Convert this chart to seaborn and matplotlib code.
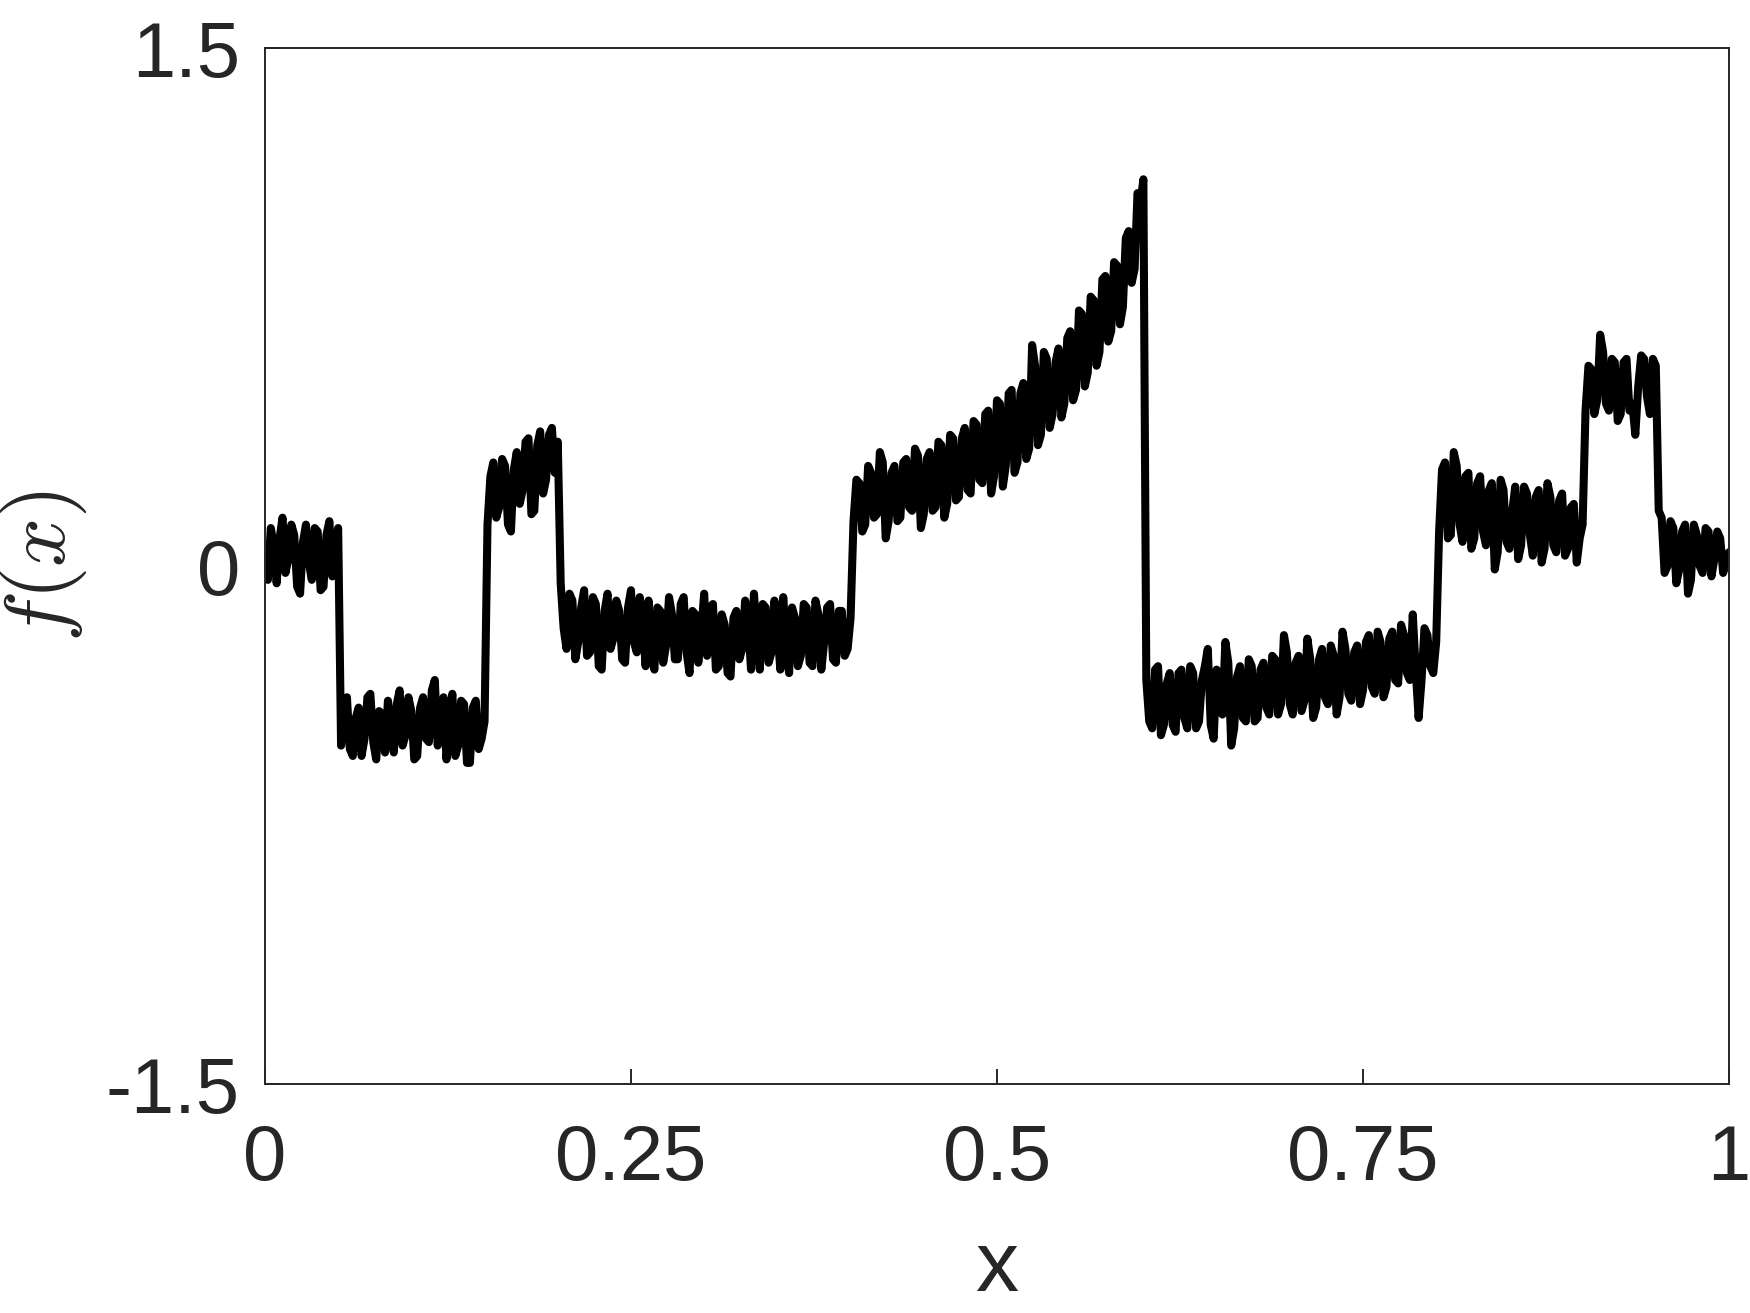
import numpy as np
import pandas as pd
import matplotlib
matplotlib.use("Agg")
import matplotlib.pyplot as plt
import seaborn as sns

# --- valores lidos do grafico (sinal com ruido, amostrado a cada 0.002) ---
# trecho 1: x de 0 a 0.05
seg1 = [0.03, -0.04, 0.11, 0.06, -0.05, 0.08, 0.14, -0.02, 0.02, 0.12,
        0.09, -0.06, -0.08, 0.07, 0.12, 0.01, -0.04, 0.11, 0.10, -0.07,
        -0.06, 0.09, 0.13, -0.03, 0.05, 0.11]
# trecho 2: x de 0.052 a 0.15
seg2 = [-0.52, -0.40, -0.38, -0.53, -0.55, -0.44, -0.41, -0.55, -0.50, -0.38,
        -0.37, -0.51, -0.56, -0.42, -0.43, -0.54, -0.39, -0.48, -0.54, -0.40,
        -0.36, -0.52, -0.49, -0.38, -0.42, -0.56, -0.55, -0.41, -0.38, -0.50,
        -0.51, -0.36, -0.33, -0.52, -0.47, -0.38, -0.56, -0.44, -0.37, -0.55,
        -0.52, -0.39, -0.40, -0.57, -0.57, -0.41, -0.39, -0.53, -0.50, -0.45]
# trecho 3: x de 0.152 a 0.2
seg3 = [0.12, 0.26, 0.30, 0.14, 0.17, 0.31, 0.29, 0.12, 0.10, 0.28,
        0.33, 0.18, 0.22, 0.36, 0.37, 0.15, 0.16, 0.35, 0.39, 0.21,
        0.25, 0.38, 0.40, 0.27, 0.36]
# trecho 4: x de 0.202 a 0.4
seg4 = [-0.05, -0.18, -0.24, -0.08, -0.10, -0.27, -0.22, -0.12, -0.07, -0.26,
        -0.25, -0.09, -0.11, -0.29, -0.30, -0.13, -0.08, -0.24, -0.21, -0.10,
        -0.13, -0.27, -0.28, -0.12, -0.07, -0.22, -0.25, -0.09, -0.16, -0.29,
        -0.10, -0.26, -0.30, -0.12, -0.13, -0.28, -0.23, -0.09, -0.14, -0.27,
        -0.27, -0.11, -0.09, -0.25, -0.31, -0.13, -0.14, -0.28, -0.19, -0.08,
        -0.26, -0.12, -0.11, -0.30, -0.29, -0.14, -0.17, -0.31, -0.32, -0.15,
        -0.13, -0.27, -0.24, -0.10, -0.16, -0.30, -0.08, -0.20, -0.30, -0.11,
        -0.12, -0.28, -0.25, -0.10, -0.18, -0.30, -0.09, -0.22, -0.31, -0.12,
        -0.15, -0.29, -0.26, -0.11, -0.12, -0.28, -0.29, -0.10, -0.14, -0.30,
        -0.22, -0.12, -0.11, -0.27, -0.28, -0.13, -0.13, -0.26, -0.24, -0.15]
# trecho 5: x de 0.402 a 0.6 (subida)
seg5 = [0.13, 0.25, 0.24, 0.10, 0.12, 0.29, 0.27, 0.14, 0.15, 0.33,
        0.30, 0.08, 0.13, 0.27, 0.29, 0.13, 0.14, 0.30, 0.31, 0.17,
        0.16, 0.34, 0.32, 0.11, 0.15, 0.31, 0.33, 0.16, 0.17, 0.36,
        0.35, 0.14, 0.18, 0.38, 0.37, 0.19, 0.20, 0.37, 0.40, 0.22,
        0.21, 0.42, 0.41, 0.25, 0.24, 0.44, 0.45, 0.21, 0.26, 0.48,
        0.47, 0.23, 0.29, 0.50, 0.51, 0.27, 0.30, 0.50, 0.53, 0.31,
        0.34, 0.64, 0.58, 0.35, 0.38, 0.62, 0.60, 0.40, 0.44, 0.59,
        0.63, 0.43, 0.47, 0.66, 0.68, 0.48, 0.51, 0.74, 0.73, 0.52,
        0.56, 0.78, 0.77, 0.58, 0.62, 0.83, 0.84, 0.65, 0.68, 0.88,
        0.87, 0.70, 0.75, 0.95, 0.97, 0.82, 0.86, 1.08, 1.05, 1.12]
# trecho 6: x de 0.602 a 0.8
seg6 = [-0.33, -0.45, -0.47, -0.30, -0.29, -0.49, -0.46, -0.34, -0.31, -0.46,
        -0.48, -0.31, -0.30, -0.44, -0.47, -0.29, -0.31, -0.47, -0.45, -0.33,
        -0.29, -0.24, -0.46, -0.50, -0.30, -0.35, -0.43, -0.22, -0.28, -0.52,
        -0.47, -0.32, -0.29, -0.44, -0.45, -0.27, -0.29, -0.45, -0.44, -0.30,
        -0.28, -0.41, -0.43, -0.26, -0.27, -0.43, -0.40, -0.20, -0.25, -0.40,
        -0.43, -0.28, -0.26, -0.42, -0.39, -0.21, -0.27, -0.44, -0.41, -0.27,
        -0.24, -0.38, -0.40, -0.23, -0.26, -0.43, -0.38, -0.19, -0.24, -0.37,
        -0.39, -0.25, -0.23, -0.40, -0.36, -0.22, -0.20, -0.35, -0.37, -0.19,
        -0.22, -0.38, -0.35, -0.21, -0.19, -0.33, -0.34, -0.17, -0.20, -0.31,
        -0.33, -0.14, -0.30, -0.44, -0.33, -0.18, -0.20, -0.29, -0.31, -0.22]
# trecho 7: x de 0.802 a 0.9
seg7 = [0.10, 0.28, 0.30, 0.08, 0.09, 0.33, 0.29, 0.12, 0.07, 0.26,
        0.27, 0.05, 0.08, 0.24, 0.26, 0.10, 0.06, 0.22, 0.24, -0.01,
        0.04, 0.25, 0.22, 0.07, 0.05, 0.16, 0.23, 0.02, 0.06, 0.23,
        0.21, 0.09, 0.03, 0.20, 0.22, 0.01, 0.05, 0.24, 0.20, 0.06,
        0.04, 0.19, 0.21, 0.03, 0.05, 0.17, 0.18, 0.01, 0.08, 0.12]
# trecho 8: x de 0.902 a 0.95
seg8 = [0.45, 0.58, 0.57, 0.44, 0.48, 0.67, 0.62, 0.47, 0.45, 0.60,
        0.59, 0.42, 0.44, 0.59, 0.60, 0.45, 0.47, 0.38, 0.52, 0.61,
        0.60, 0.49, 0.44, 0.60, 0.58]
# trecho 9: x de 0.952 a 1
seg9 = [0.16, 0.14, -0.02, 0.00, 0.13, 0.11, -0.05, -0.01, 0.10, 0.12,
        -0.08, -0.04, 0.12, 0.09, 0.00, -0.02, 0.11, 0.10, -0.03, 0.02,
        0.10, 0.08, -0.02, 0.01, 0.04]

x_ticks = [0, 0.25, 0.5, 0.75, 1]
x_tick_labels = ["0", "0.25", "0.5", "0.75", "1"]
y_ticks = [-1.5, 0, 1.5]
y_tick_labels = ["-1.5", "0", "1.5"]

fx = np.concatenate([seg1, seg2, seg3, seg4, seg5, seg6, seg7, seg8, seg9])
xs = np.linspace(0, 1, len(fx))
df = pd.DataFrame({"x": xs, "fx": fx})

# --- estilo ---
sns.set_theme(style="white")
plt.rcParams["font.family"] = ["Liberation Sans", "DejaVu Sans"]
plt.rcParams["mathtext.fontset"] = "cm"
cinza = "#262626"

fig = plt.figure(figsize=(8.75, 6.565), dpi=200)
ax = fig.add_axes([0.1514, 0.1744, 0.8366, 0.789])

sns.lineplot(data=df, x="x", y="fx", color="black", lw=2.9, ax=ax)

ax.set_xlim(0, 1)
ax.set_ylim(-1.5, 1.5)
ax.set_xticks(x_ticks)
ax.set_xticklabels(x_tick_labels)
ax.set_yticks(y_ticks)
ax.set_yticklabels(y_tick_labels)

ax.tick_params(direction="in", length=5.4, width=0.7, colors=cinza,
               labelsize=28, top=False, right=False, bottom=True, left=True)
ax.tick_params(axis="x", pad=14)
ax.tick_params(axis="y", pad=9)
for s in ax.spines.values():
    s.set_color(cinza)
    s.set_linewidth(0.7)

ax.set_xlabel("x", fontsize=31, color=cinza, labelpad=12)
ax.set_ylabel(r"$f(x)$", fontsize=31, color=cinza, labelpad=6)

fig.savefig("out.png", dpi=200)
